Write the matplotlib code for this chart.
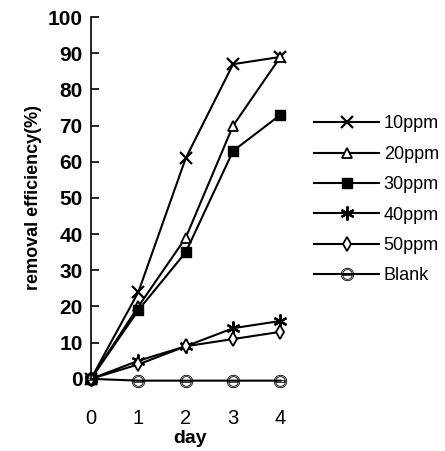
import numpy as np
import matplotlib
matplotlib.use('Agg')
import matplotlib.pyplot as plt

plt.rcParams['font.family'] = ['Liberation Sans', 'DejaVu Sans']

day = [0, 1, 2, 3, 4]
ppm10 = [0, 24, 61, 87, 89]
ppm20 = [0, 20, 39, 70, 89]
ppm30 = [0, 19, 35, 63, 73]
ppm40 = [0, 5, 9, 14, 16]
ppm50 = [0, 4, 9, 11, 13]
blank = [0, -0.5, -0.5, -0.5, -0.5]
labels = ['10ppm', '20ppm', '30ppm', '40ppm', '50ppm', 'Blank']

fig = plt.figure(figsize=(4.45, 4.51), dpi=100)
ax = fig.add_axes([0.2045, 0.16, 0.447, 0.802])

styles = [
    dict(marker='x', ms=9, mfc='none', mew=1.6),
    dict(marker='^', ms=7, mfc='white', mew=1.3),
    dict(marker='s', ms=7, mfc='black', mew=1.0),
    dict(marker=(6, 2, 0), ms=10, mfc='none', mew=1.6),
    dict(marker='d', ms=7, mfc='white', mew=1.3),
    dict(marker='$\\ominus$', ms=9, mfc='none', mew=0.6),
]
series = [ppm10, ppm20, ppm30, ppm40, ppm50, blank]
for s, lab, st in zip(series, labels, styles):
    ax.plot(day, s, color='black', lw=1.5, mec='black', label=lab, clip_on=False, **st)

ax.set_xlim(0, 4.2)
ax.set_ylim(0, 100)
ax.set_yticks(np.arange(0, 101, 10))
ax.set_xticks(day)
for side in ['top', 'right', 'bottom']:
    ax.spines[side].set_visible(False)
ax.spines['left'].set_linewidth(1.2)
ax.tick_params(axis='y', direction='in', length=6, width=1.2, labelsize=15, pad=6)
ax.tick_params(axis='x', length=0, labelsize=14.5, pad=22)
for t in ax.get_yticklabels():
    t.set_fontweight('bold')
ax.set_xlabel('day', fontsize=14, fontweight='bold', labelpad=1)
ax.set_ylabel('removal efficiency(%)', fontsize=13, fontweight='bold', labelpad=4)

fig.legend(loc='upper left', bbox_to_anchor=(0.69, 0.76), frameon=False,
           fontsize=13, handlelength=3.6, handletextpad=0.25, labelspacing=0.74,
           borderaxespad=0)

fig.savefig('out.png', dpi=100)
